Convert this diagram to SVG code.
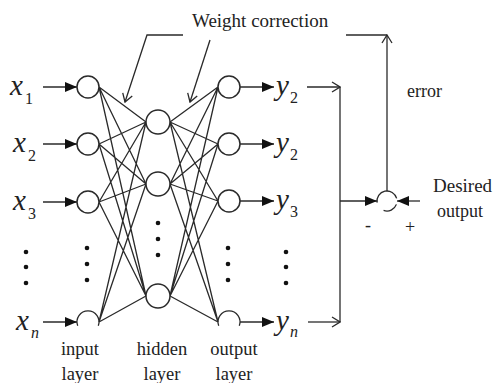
<svg xmlns="http://www.w3.org/2000/svg" width="495" height="383" viewBox="0 0 495 383">
<style>
.l{stroke:#2a2a2a;stroke-width:1.3;fill:none}
.n{stroke:#2a2a2a;stroke-width:1.5;fill:#fff}
.t{font-family:'Liberation Serif','Times New Roman',serif;fill:#222}
.v{font-family:'Liberation Serif','Times New Roman',serif;font-style:italic;fill:#222;font-size:29px}
.s{font-family:'Liberation Serif','Times New Roman',serif;fill:#222;font-size:16px}
.d{fill:#111}
</style>
<defs>
<marker id="fa" viewBox="0 0 12 10" refX="12" refY="5" markerWidth="12" markerHeight="10" markerUnits="userSpaceOnUse" orient="auto"><path d="M0,0 L12,5 L0,10 Z" fill="#111"/></marker>
<marker id="oa" viewBox="0 0 10 12" refX="9" refY="6" markerWidth="10" markerHeight="12" markerUnits="userSpaceOnUse" orient="auto"><path d="M1,1 L9,6 L1,11" fill="none" stroke="#2a2a2a" stroke-width="1.3"/></marker>
</defs>
<rect width="495" height="383" fill="#fff"/>
<g id="connectors" class="l">
<path d="M99,87 L146,122 M99,87 L146,184 M99,87 L146,296
M99,144 L146,122 M99,144 L146,184 M99,144 L146,296
M99,202 L146,122 M99,202 L146,184 M99,202 L146,296
M99,322 L146,122 M99,322 L146,184 M99,322 L146,296"/>
<path d="M170,122 L218,87 M170,122 L218,144 M170,122 L218,201 M170,122 L218,322
M170,184 L218,87 M170,184 L218,144 M170,184 L218,201 M170,184 L218,322
M170,296 L218,87 M170,296 L218,144 M170,296 L218,201 M170,296 L218,322"/>
<line x1="43" y1="87" x2="77" y2="87" marker-end="url(#fa)"/>
<line x1="43" y1="144" x2="77" y2="144" marker-end="url(#fa)"/>
<line x1="43" y1="202" x2="77" y2="202" marker-end="url(#fa)"/>
<line x1="43" y1="322" x2="77" y2="322" marker-end="url(#fa)"/>
<line x1="240" y1="87" x2="274" y2="87" marker-end="url(#fa)"/>
<line x1="240" y1="144" x2="274" y2="144" marker-end="url(#fa)"/>
<line x1="240" y1="201" x2="274" y2="201" marker-end="url(#fa)"/>
<line x1="240" y1="322" x2="274" y2="322" marker-end="url(#fa)"/>
<line x1="307" y1="87" x2="340" y2="87" marker-end="url(#oa)"/>
<line x1="308" y1="322" x2="340" y2="322" marker-end="url(#oa)"/>
<line x1="340" y1="87" x2="340" y2="322"/>
<line x1="340" y1="201" x2="377" y2="201" marker-end="url(#fa)"/>
<line x1="420" y1="201" x2="397" y2="201" marker-end="url(#fa)"/>
<line x1="387" y1="191" x2="387" y2="35" marker-end="url(#oa)"/>
<line x1="346" y1="35" x2="387" y2="35"/>
<polyline points="183,35 147,35 125,102" marker-end="url(#oa)"/>
<line x1="210" y1="40" x2="190" y2="102" marker-end="url(#oa)"/>
</g>
<g id="input1"><circle class="n" cx="88" cy="87" r="11"/></g>
<g id="input2"><circle class="n" cx="88" cy="144" r="11"/></g>
<g id="input3"><circle class="n" cx="88" cy="202" r="11"/></g>
<g id="inputn"><path class="l" stroke-width="1.5" d="M77.7,325.8 A11,11 0 1 1 98.3,325.8"/></g>
<g id="hidden1"><circle class="n" cx="158" cy="122" r="12"/></g>
<g id="hidden2"><circle class="n" cx="158" cy="184" r="12"/></g>
<g id="hiddenn"><circle class="n" cx="158" cy="296" r="12"/></g>
<g id="output1"><circle class="n" cx="229" cy="87" r="11"/></g>
<g id="output2"><circle class="n" cx="229" cy="144" r="11"/></g>
<g id="output3"><circle class="n" cx="229" cy="201" r="11"/></g>
<g id="outputn"><path class="l" stroke-width="1.5" d="M218.7,325.8 A11,11 0 1 1 239.3,325.8"/></g>
<g id="sum"><path class="l" stroke-width="1.5" d="M377.15,202.7 A10,10 0 0 1 396.66,198.4 M396.4,204.4 A10,10 0 0 1 383.58,210.4"/></g>
<g id="dots">
<circle class="d" cx="26" cy="252" r="2.3"/><circle class="d" cx="26" cy="267" r="2.3"/><circle class="d" cx="26" cy="283" r="2.3"/>
<circle class="d" cx="87" cy="248" r="2.3"/><circle class="d" cx="87" cy="264" r="2.3"/><circle class="d" cx="87" cy="280" r="2.3"/>
<circle class="d" cx="158" cy="223" r="2.3"/><circle class="d" cx="158" cy="239" r="2.3"/><circle class="d" cx="158" cy="255" r="2.3"/>
<circle class="d" cx="228" cy="248" r="2.3"/><circle class="d" cx="228" cy="264" r="2.3"/><circle class="d" cx="228" cy="280" r="2.3"/>
<circle class="d" cx="286" cy="252" r="2.3"/><circle class="d" cx="286" cy="267" r="2.3"/><circle class="d" cx="286" cy="283" r="2.3"/>
</g>
<g id="labels">
<text class="v" x="10" y="95">x</text><text class="s" x="25" y="104">1</text>
<text class="v" x="13" y="152">x</text><text class="s" x="28" y="161">2</text>
<text class="v" x="13" y="210">x</text><text class="s" x="28" y="219">3</text>
<text class="v" x="16" y="330">x</text><text class="s" x="31" y="338" font-style="italic">n</text>
<text class="v" x="276" y="95">y</text><text class="s" x="290" y="103">2</text>
<text class="v" x="276" y="152">y</text><text class="s" x="290" y="160">2</text>
<text class="v" x="276" y="209">y</text><text class="s" x="290" y="217">3</text>
<text class="v" x="276" y="330">y</text><text class="s" x="290" y="337" font-style="italic">n</text>
<text class="t" font-size="19" x="192" y="27">Weight correction</text>
<text class="t" font-size="18" x="407" y="97">error</text>
<text class="t" font-size="19" x="433" y="192">Desired</text>
<text class="t" font-size="18" x="437" y="217">output</text>
<text class="t" font-size="18" x="365" y="231">-</text>
<text class="t" font-size="18" x="405" y="233">+</text>
<text class="t" font-size="18.5" x="80" y="355" text-anchor="middle">input</text>
<text class="t" font-size="18.5" x="80" y="380" text-anchor="middle">layer</text>
<text class="t" font-size="18.5" x="162" y="355" text-anchor="middle">hidden</text>
<text class="t" font-size="18.5" x="162" y="380" text-anchor="middle">layer</text>
<text class="t" font-size="18.5" x="234" y="355" text-anchor="middle">output</text>
<text class="t" font-size="18.5" x="234" y="380" text-anchor="middle">layer</text>
</g>
</svg>
